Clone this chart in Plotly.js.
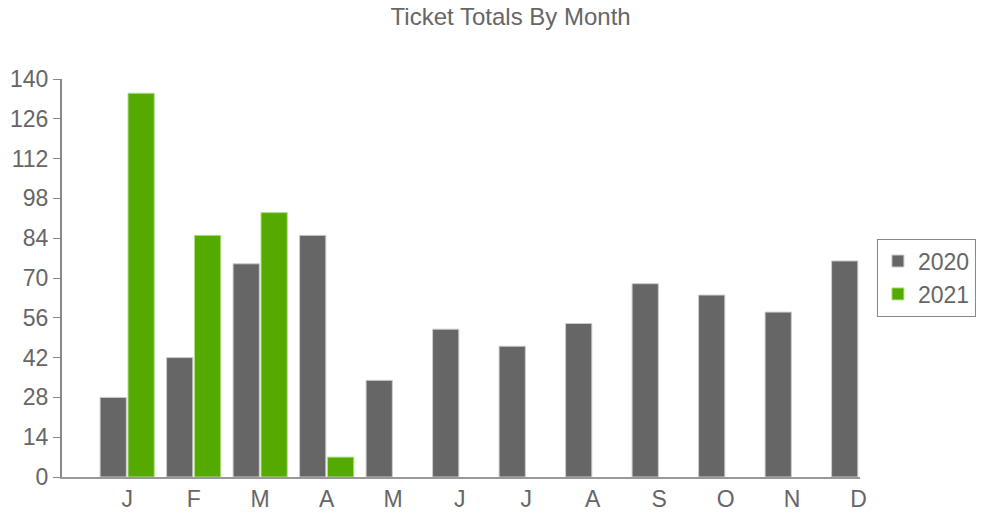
<!DOCTYPE html>
<html>
<head>
<meta charset="utf-8">
<script src="https://cdn.plot.ly/plotly-3.0.1.min.js"></script>
<style>html,body{margin:0;padding:0;background:#fff;}#chart{width:982px;height:514px;}</style>
</head>
<body>
<div id="chart"></div>
<script>
const months = ["J","F","M","A","M","J","J","A","S","O","N","D"];
const monthIdx = [0,1,2,3,4,5,6,7,8,9,10,11];
const totals2020 = [28,42,75,85,34,52,46,54,68,64,58,76];
const totals2021 = [135,85,93,7,null,null,null,null,null,null,null,null];
const yTicks = [0,14,28,42,56,70,84,98,112,126,140];

const FONT = "Liberation Sans, Arial, sans-serif";

const traces = [
  {type:"bar", name:"2020", x:monthIdx, y:totals2020,
   marker:{color:"#666666", line:{color:"#cccccc", width:1}}},
  {type:"bar", name:"2021", x:monthIdx, y:totals2021,
   marker:{color:"#55aa00", line:{color:"#aee08a", width:1}}}
];

const layout = {
  width:982, height:514,
  margin:{l:62, r:122, t:79, b:37, pad:0, autoexpand:false},
  paper_bgcolor:"#ffffff", plot_bgcolor:"#ffffff",
  barmode:"group", bargap:0.16, bargroupgap:0.06,
  title:{text:"Ticket Totals By Month", font:{family:FONT, size:24, color:"#666666"},
         x:0.52, xref:"container", xanchor:"center", y:0.985, yref:"container", yanchor:"top"},
  font:{family:FONT, color:"#666666"},
  xaxis:{range:[-0.98, 11.02], tickmode:"array", tickvals:monthIdx, ticktext:months,
         showgrid:false, zeroline:false, showline:true, linecolor:"#999999", linewidth:2,
         ticks:"", tickfont:{family:FONT, size:23, color:"#666666"}, fixedrange:true},
  yaxis:{range:[0,140], tickmode:"array", tickvals:yTicks, ticktext:yTicks.map(String),
         showgrid:false, zeroline:false, showline:true, linecolor:"#888888", linewidth:2,
         ticks:"outside", ticklen:7, tickwidth:1, tickcolor:"#888888",
         tickfont:{family:FONT, size:23, color:"#666666"}, fixedrange:true},
  legend:{x:0.893, xref:"container", xanchor:"left", y:0.46, yref:"container", yanchor:"middle",
          bordercolor:"#888888", borderwidth:1,
          bgcolor:"#ffffff", font:{family:FONT, size:23, color:"#666666"},
          itemwidth:30, tracegroupgap:0},
  showlegend:true
};

Plotly.newPlot("chart", traces, layout, {displayModeBar:false, staticPlot:true});
</script>
</body>
</html>
